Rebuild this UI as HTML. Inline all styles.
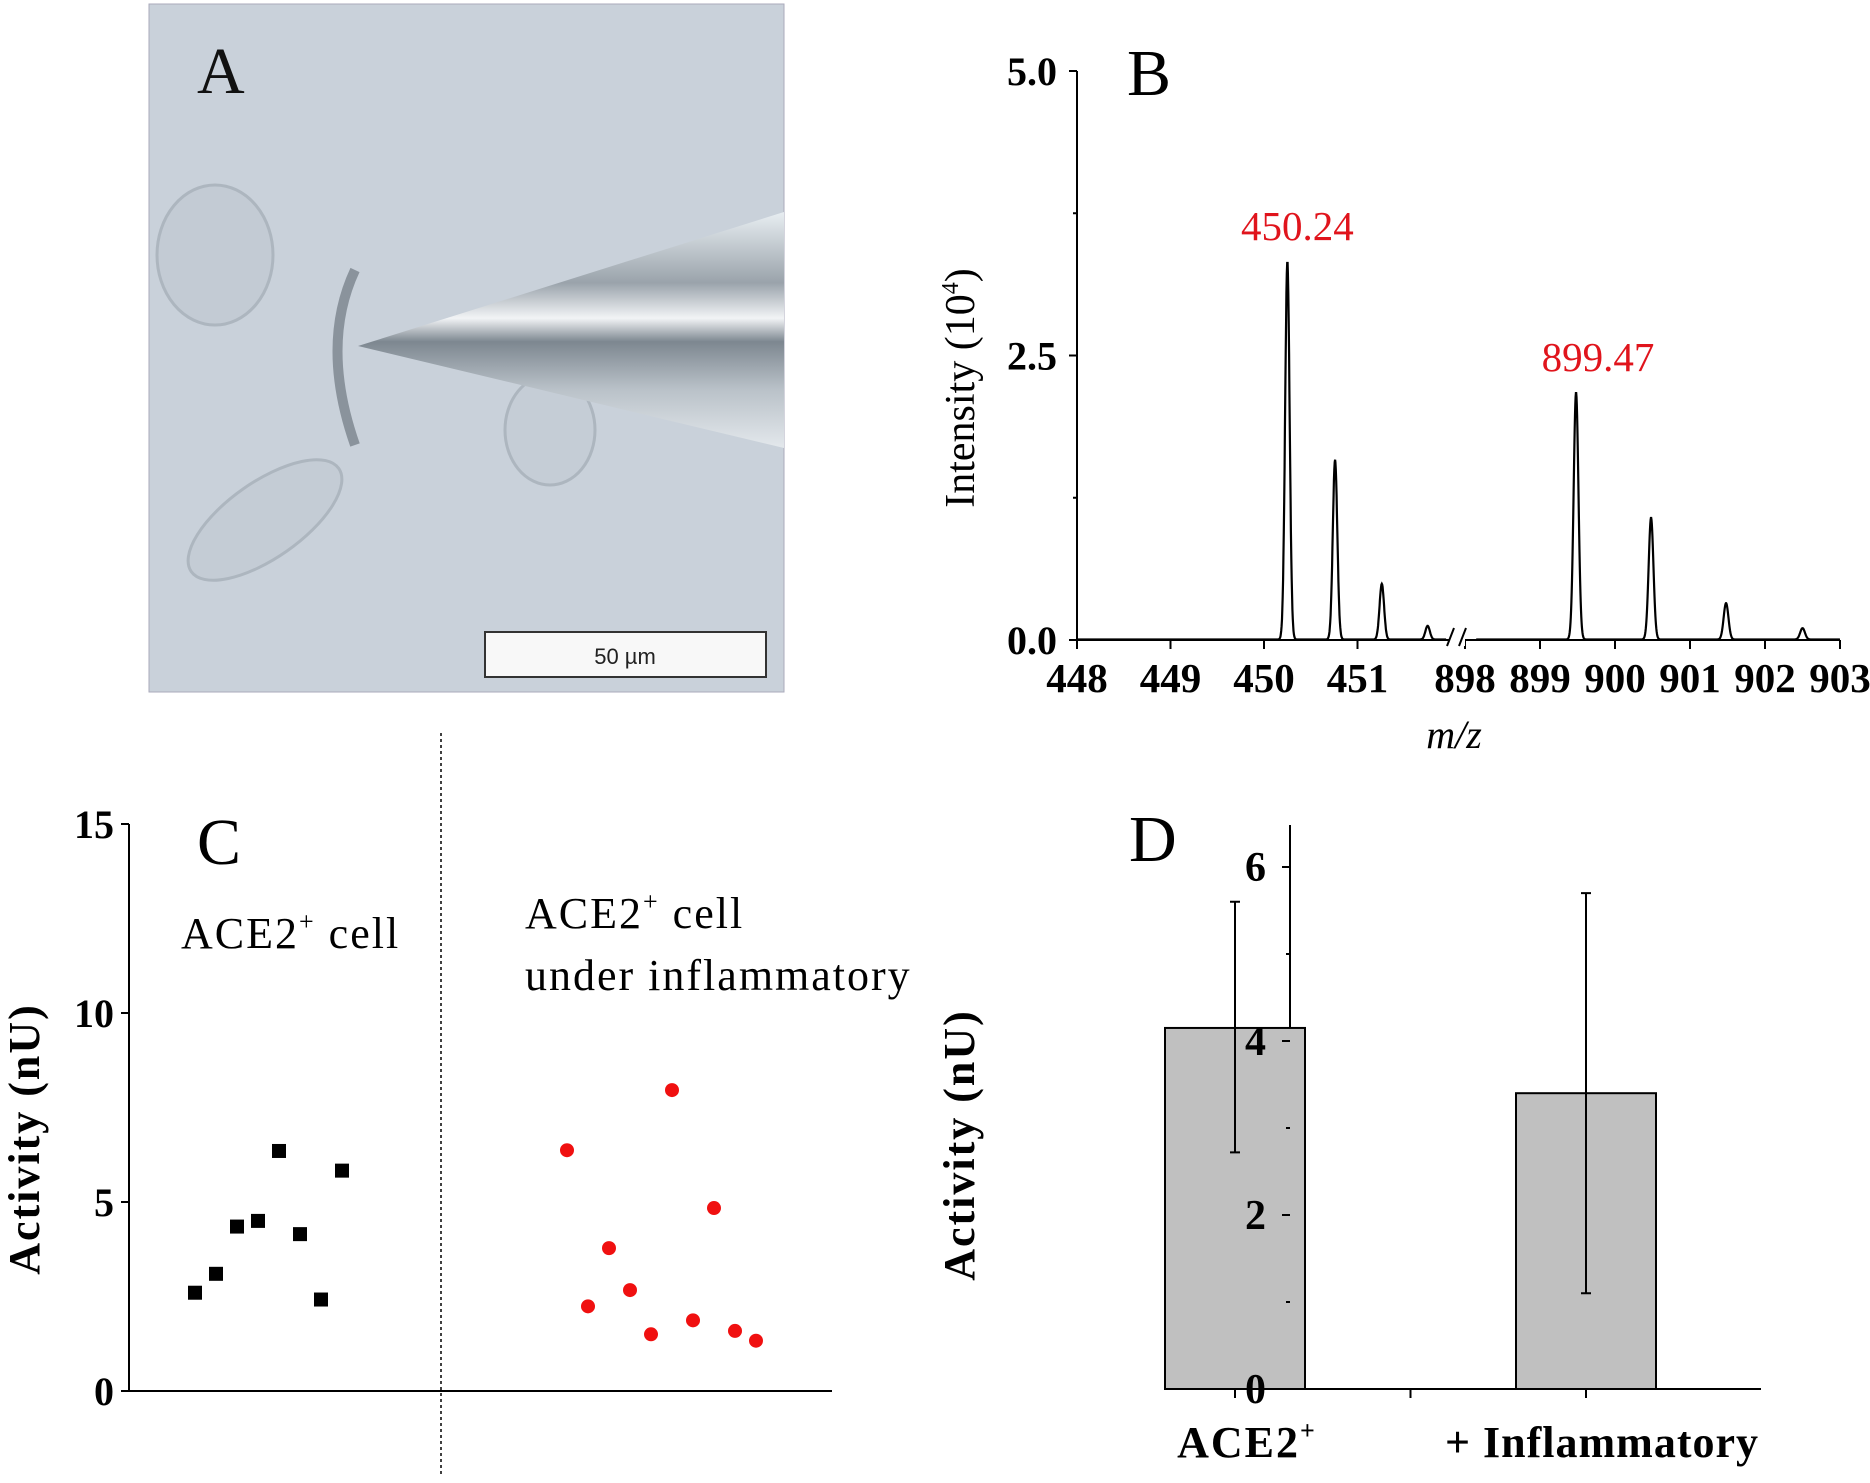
<!DOCTYPE html>
<html><head><meta charset="utf-8"><style>
html,body{margin:0;padding:0;background:#fff}
svg{display:block}
text{font-family:"Liberation Serif",serif}
</style></head><body>
<svg id="fig" width="1870" height="1483" viewBox="0 0 1870 1483" xmlns="http://www.w3.org/2000/svg">
<defs>
<linearGradient id="pip" x1="0" y1="0" x2="0" y2="1">
<stop offset="0" stop-color="#e8eef2"/><stop offset="0.3" stop-color="#9aa3ab"/><stop offset="0.45" stop-color="#f2f4f6"/><stop offset="0.55" stop-color="#7d8790"/><stop offset="0.75" stop-color="#b9c1c8"/><stop offset="1" stop-color="#e3e8ec"/>
</linearGradient>
</defs>
<g>
<rect x="149" y="4" width="635" height="688" fill="#c9d1da" stroke="#aab" stroke-width="1"/>
<ellipse cx="215" cy="255" rx="58" ry="70" fill="#c3cbd4" stroke="#adb6bf" stroke-width="3"/>
<ellipse cx="265" cy="520" rx="90" ry="38" transform="rotate(-35 265 520)" fill="#c4ccd5" stroke="#adb6bf" stroke-width="3"/>
<ellipse cx="550" cy="430" rx="45" ry="55" fill="#c5cdd6" stroke="#adb6bf" stroke-width="3"/>
<path d="M355 270 Q320 345 355 445" fill="none" stroke="#8a939c" stroke-width="10"/>
<polygon points="358,346 784,212 784,448" fill="url(#pip)"/>
<rect x="485" y="632" width="281" height="45" fill="#f8f8f8" stroke="#333" stroke-width="2"/>
<text x="625" y="664" font-size="22" text-anchor="middle" fill="#222" style="font-family:'Liberation Sans',sans-serif">50 µm</text>
<text x="197" y="93" font-size="66" fill="#111">A</text>
</g>

<g id="panelB"></g>
<g id="panelC"></g>
<g id="panelD"></g>
</svg>
<script>
// ---- Panel B data ----
const peakMz = [450.25, 450.76, 451.26, 451.75, 899.48, 900.48, 901.48, 902.5];
const peakInt = [3.32, 1.58, 0.49, 0.12, 2.17, 1.07, 0.32, 0.10];
const bLeftTicks = [448, 449, 450, 451];
const bRightTicks = [898, 899, 900, 901, 902, 903];
const bYTicks = ["0.0", "2.5", "5.0"];
const bYTickVals = [0, 2.5, 5.0];
const peakLabels = ["450.24", "899.47"];
const peakLabelMz = [450.25, 899.48];
const peakLabelInt = [3.32, 2.17];
// ---- Panel C data ----
const ctrlVals = [2.6, 3.1, 4.35, 4.5, 6.35, 4.15, 2.42, 5.83];
const inflVals = [6.37, 2.24, 3.78, 2.67, 1.5, 7.96, 1.87, 4.84, 1.59, 1.33];
const cYTicks = [0, 5, 10, 15];
// ---- Panel D data ----
const dCats = ["ACE2", "+ Inflammatory"];
const dMeans = [4.15, 3.4];
const dUpper = [5.6, 5.7];
const dLower = [2.72, 1.1];
const dYTicks = [0, 2, 4, 6];

const NS = "http://www.w3.org/2000/svg";
function mk(parent, tag, attrs, txt) {
  const e = document.createElementNS(NS, tag);
  for (const k in attrs) e.setAttribute(k, attrs[k]);
  if (txt !== undefined) e.textContent = txt;
  parent.appendChild(e);
  return e;
}

// ===== Panel B =====
(function () {
  const g = document.getElementById("panelB");
  const x0 = 1077, xEnd = 1840, yTop = 71, yBot = 640;
  const BREAK = 1457;
  function xs(mz) { return mz < 600 ? x0 + (mz - 448) * 93.5 : xEnd - (903 - mz) * 75; }
  function ys(v) { return yBot - v / 5 * (yBot - yTop); }
  let a = mk(g, "line", {x1: x0, y1: yTop, x2: x0, y2: yBot, stroke: "#000", "stroke-width": 2});
  
  
  a = mk(g, "line", {x1: x0, y1: yBot, x2: xEnd, y2: yBot, stroke: "#000", "stroke-width": 2});
  
  
  [0, 1.25, 2.5, 3.75, 5].forEach(v => mk(g, "line", {x1: x0 - (v % 2.5 ? 4 : 8), y1: ys(v), x2: x0, y2: ys(v), stroke: "#000", "stroke-width": 2}));
  bYTickVals.forEach((v, i) => {
    const t = mk(g, "text", {x: 1057, y: ys(v) + 14, "text-anchor": "end", "font-size": 40, "font-weight": "bold"}, bYTicks[i]);
    
    
  });
  bLeftTicks.concat(bRightTicks).forEach(m => {
    mk(g, "line", {x1: xs(m), y1: yBot, x2: xs(m), y2: yBot + 9, stroke: "#000", "stroke-width": 2});
    const t = mk(g, "text", {x: xs(m), y: 692, "text-anchor": "middle", "font-size": 41, "font-weight": "bold"}, String(m));
    
    
  });
  function segPath(lo, hi, sig) {
    let d = "";
    for (let m = lo; m <= hi; m += 0.004) {
      let v = 0.004;
      peakMz.forEach((pm, i) => { v += peakInt[i] * Math.exp(-0.5 * Math.pow((m - pm) / sig, 2)); });
      d += (d ? "L" : "M") + xs(m).toFixed(1) + " " + ys(v).toFixed(1);
    }
    return d;
  }
  let p = mk(g, "path", {d: segPath(448, 451.95, 0.024), fill: "none", stroke: "#000", "stroke-width": 2.2});
  
  
  p = mk(g, "path", {d: segPath(898.15, 903, 0.032), fill: "none", stroke: "#000", "stroke-width": 2.2});
  
  
  mk(g, "rect", {x: BREAK - 8, y: yBot - 14, width: 16, height: 20, fill: "#fff"});
  mk(g, "path", {d: `M${BREAK - 10} ${yBot + 6} L${BREAK - 3} ${yBot - 12} M${BREAK + 2} ${yBot + 6} L${BREAK + 9} ${yBot - 12}`, stroke: "#000", "stroke-width": 2});
  const lblDx = [10, 22];
  peakLabels.forEach((s, i) => {
    const t = mk(g, "text", {x: xs(peakLabelMz[i]) + lblDx[i], y: ys(peakLabelInt[i]) - 22, "text-anchor": "middle", "font-size": 41, fill: "#e0141c"}, s);
    
    
  });
  let t = mk(g, "text", {x: 1454, y: 748, "text-anchor": "middle", "font-size": 40, "font-style": "italic"}, "m/z");
  
  
  t = mk(g, "text", {x: 0, y: 0, transform: "translate(974 388) rotate(-90)", "text-anchor": "middle", "font-size": 42});
  
  
  t.innerHTML = 'Intensity (10<tspan font-size="24" dy="-16">4</tspan><tspan dy="16">)</tspan>';
  t = mk(g, "text", {x: 1127, y: 95, "font-size": 66}, "B");
  
  
})();

// ===== Panel C =====
(function () {
  const g = document.getElementById("panelC");
  const x0 = 129, xEnd = 832, yTop = 824, yBot = 1391;
  function ys(v) { return yBot - v / 15 * (yBot - yTop); }
  function xCtrl(i) { return 195 + 21 * i; }
  function xInfl(i) { return 567 + 21 * i; }
  let a = mk(g, "line", {x1: x0, y1: yTop, x2: x0, y2: yBot, stroke: "#000", "stroke-width": 2});
  
  
  a = mk(g, "line", {x1: x0, y1: yBot, x2: xEnd, y2: yBot, stroke: "#000", "stroke-width": 2});
  
  
  a = mk(g, "line", {x1: 441, y1: 733, x2: 441, y2: 1475, stroke: "#000", "stroke-width": 1.5, "stroke-dasharray": "3 3"});
  
  
  cYTicks.forEach(v => {
    mk(g, "line", {x1: x0 - 8, y1: ys(v), x2: x0, y2: ys(v), stroke: "#000", "stroke-width": 2});
    const t = mk(g, "text", {x: 114, y: ys(v) + 14, "text-anchor": "end", "font-size": 40, "font-weight": "bold"}, String(v));
    
    
  });
  ctrlVals.forEach((v, i) => {
    const r = mk(g, "rect", {x: xCtrl(i) - 7, y: ys(v) - 7, width: 14, height: 14, fill: "#000"});
    
    
  });
  inflVals.forEach((v, i) => {
    const c = mk(g, "circle", {cx: xInfl(i), cy: ys(v), r: 7, fill: "#f01010"});
    
    
  });
  let t = mk(g, "text", {x: 0, y: 0, transform: "translate(39 1139) rotate(-90)", "text-anchor": "middle", "font-size": 44, "font-weight": "bold", "letter-spacing": 2}, "Activity (nU)");
  
  
  t = mk(g, "text", {x: 197, y: 864, "font-size": 66}, "C");
  
  
  t = mk(g, "text", {x: 181, y: 948, "font-size": 44, "letter-spacing": 2});
  t.innerHTML = 'ACE2<tspan font-size="26" dy="-18">+</tspan><tspan dy="18"> cell</tspan>';
  
  
  t = mk(g, "text", {x: 525, y: 928, "font-size": 44, "letter-spacing": 2});
  t.innerHTML = 'ACE2<tspan font-size="26" dy="-18">+</tspan><tspan dy="18"> cell</tspan>';
  
  
  t = mk(g, "text", {x: 525, y: 990, "font-size": 44, "letter-spacing": 2, "xml:space": "preserve"}, "under  inflammatory");
  
  
})();

// ===== Panel D =====
(function () {
  const g = document.getElementById("panelD");
  const x0 = 1290, xEnd = 1761, yAxTop = 825, yBot = 1389, y6 = 867;
  function ys(v) { return yBot - v / 6 * (yBot - y6); }
  const centers = [1235, 1586];
  function xc(i) { return centers[0] + i * (centers[1] - centers[0]); }
  const bw = 140;
  let a = mk(g, "line", {x1: x0, y1: yAxTop, x2: x0, y2: yBot, stroke: "#000", "stroke-width": 2});
  
  
  dMeans.forEach((v, i) => {
    const r = mk(g, "rect", {x: xc(i) - bw / 2, y: ys(v), width: bw, height: yBot - ys(v), fill: "#c0c0c0", stroke: "#000", "stroke-width": 2});
    
    
    const e = mk(g, "path", {d: `M${xc(i)} ${ys(dUpper[i])}V${ys(dLower[i])}M${xc(i) - 5} ${ys(dUpper[i])}H${xc(i) + 5}M${xc(i) - 5} ${ys(dLower[i])}H${xc(i) + 5}`, stroke: "#000", "stroke-width": 2, fill: "none"});
    
    
  });
  a = mk(g, "line", {x1: x0, y1: yBot, x2: xEnd, y2: yBot, stroke: "#000", "stroke-width": 2});
  
  
  [xc(0), (xc(0) + xc(1)) / 2, xc(1)].forEach(x => mk(g, "line", {x1: x, y1: yBot, x2: x, y2: yBot + 9, stroke: "#000", "stroke-width": 2}));
  [1, 3, 5].forEach(v => mk(g, "line", {x1: x0 - 4, y1: ys(v), x2: x0, y2: ys(v), stroke: "#000", "stroke-width": 2}));
  dYTicks.forEach(v => {
    mk(g, "line", {x1: x0 - 8, y1: ys(v), x2: x0, y2: ys(v), stroke: "#000", "stroke-width": 2});
    const t = mk(g, "text", {x: 1266, y: ys(v) + 14, "text-anchor": "end", "font-size": 42, "font-weight": "bold"}, String(v));
    
    
  });
  let t = mk(g, "text", {x: xc(0) + 12, y: 1457, "text-anchor": "middle", "font-size": 44, "font-weight": "bold", "letter-spacing": 2});
  t.innerHTML = dCats[0] + '<tspan font-size="26" dy="-18">+</tspan>';
  
  
  t = mk(g, "text", {x: xc(1) + 16, y: 1457, "text-anchor": "middle", "font-size": 44, "font-weight": "bold", "letter-spacing": 1}, dCats[1]);
  
  
  t = mk(g, "text", {x: 0, y: 0, transform: "translate(974 1145) rotate(-90)", "text-anchor": "middle", "font-size": 44, "font-weight": "bold", "letter-spacing": 2}, "Activity (nU)");
  
  
  t = mk(g, "text", {x: 1129, y: 861, "font-size": 66}, "D");
  
  
})();
</script>
</body></html>
